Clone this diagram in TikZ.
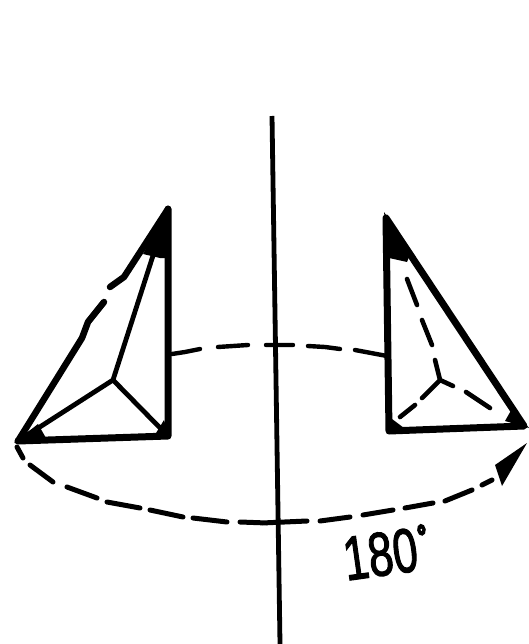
\documentclass[tikz,border=0pt]{standalone}
\usepackage{fontspec}
\setmainfont{Liberation Sans}
\newfontfamily\medfont[FakeBold=2]{Liberation Sans}
\newfontfamily\heavyfont[FakeBold=9]{Liberation Sans}
\begin{document}
\begin{tikzpicture}[x=1pt,y=-1pt,
 outeredge/.style={line width=7pt,line cap=round,line join=round},
 inneredge/.style={line width=4.8pt,line cap=round,line join=round},
 dashseg/.style={line width=4.6pt,line cap=round},
 arcseg/.style={line width=5pt,line cap=round}]
\useasboundingbox (0,0) rectangle (529,644);
\coordinate (axt) at (272,116);
\coordinate (axb) at (280,644);
\coordinate (la) at (18,441);
\coordinate (lb) at (168,436);
\coordinate (lc) at (168,209);
\coordinate (lo) at (113,380);
\coordinate (ra) at (389,431);
\coordinate (rb) at (524,426);
\coordinate (rc) at (386,218);
\coordinate (ro) at (440,380);
% axis
\draw[line width=4.8pt] (axt) -- (axb);
% left solid
\draw[outeredge] (lb) -- (lc) (lb) -- (la);
\draw[line width=6.5pt,line cap=round,line join=round] (la) -- (82,338) -- (88,322) -- (104,302)
  (110,287) -- (124,277) -- (lc);
\draw[inneredge] (lc) -- (lo) (la) -- (lo) -- (lb);
\fill[line join=round] (168,206) -- (143,254) -- (160,258) -- (170,258) -- cycle;
\fill (14,443) -- (38,424) -- (46,438) -- cycle;
\fill (170,439) -- (153,438) -- (164,420) -- cycle;
% right solid
\draw[outeredge] (rc) -- (ra) -- (rb) -- cycle;
\fill (384,212) -- (389,258) -- (407,262) -- (411,252) -- cycle;
\fill (529,428) -- (505,421) -- (513,407) -- cycle;
\fill (388,433) -- (392,419) -- (404,428) -- cycle;
% right hidden edges
\draw[dashseg] (407,279) -- (417,305) (422,320) -- (432,345) (435,360) -- (ro)
  (ro) -- (453,386) (ro) -- (422,398) (466,392) -- (490,408) (415,405) -- (400,417);
% upper arc
\draw[line width=4.4pt,line cap=round] (172,354) -- (185,352) -- (200,349)
  (218,347) -- (248,345) (266,345) -- (293,345)
  (308,346) -- (325,347) -- (340,349) (355,350) -- (387,356);
% lower arc
\draw[arcseg] (17,447) -- (23,458) (30,465) -- (53,482) (67,487) -- (97,498)
  (107,502) -- (140,508) (150,510) -- (183,517) (193,518) -- (227,522)
  (240,522) -- (267,523) (262,523) -- (307,521) (320,521) -- (350,517)
  (363,515) -- (393,510) (405,508) -- (433,503) (445,501) -- (472,490)
  (482,485) -- (492,480);
\fill (527,443) -- (495,465) -- (502,486) -- cycle;
% label
\node[inner sep=0pt,rotate=8,xscale=0.72,font=\fontsize{62}{62}\selectfont\medfont] (lbl) at (386,553) {180\hspace{3pt}\raisebox{22pt}{\fontsize{32}{32}\heavyfont °}};
\end{tikzpicture}
\end{document}
